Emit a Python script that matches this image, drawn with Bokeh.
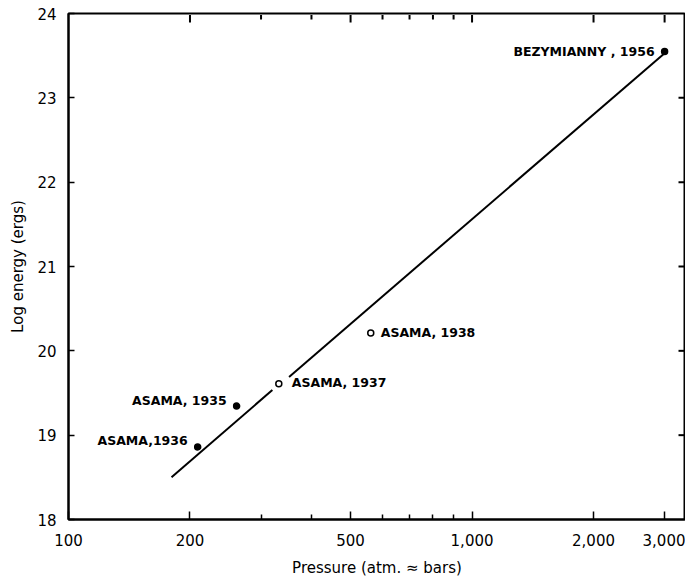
import math
from bokeh.plotting import figure
from bokeh.models import FixedTicker, Range1d, ColumnDataSource, LabelSet
from bokeh.core.properties import value
from bokeh.embed import file_html
from bokeh.resources import INLINE

# ---- data ----
names = ["BEZYMIANNY , 1956", "ASAMA, 1938", "ASAMA, 1937", "ASAMA, 1935", "ASAMA,1936"]
pressure = [3000, 561, 332, 261, 209]
log_energy = [23.55, 20.21, 19.61, 19.345, 18.86]
filled = [True, False, False, True, True]

# fitted line (two pieces, gap around ASAMA 1937)
line1_x = [180, 320]
line1_y = [18.50, 19.535]
line2_x = [352, 3000]
line2_y = [19.69, 23.53]

x_major = [100, 200, 500, 1000, 2000, 3000]
x_minor = [300, 400, 600, 700, 800, 900]
x_labels = {100: "100", 200: "200", 500: "500", 1000: "1,000", 2000: "2,000", 3000: "3,000"}
y_ticks = [18, 19, 20, 21, 22, 23, 24]

FONT = "DejaVu Sans"
X_START, X_END = 100, 3380
Y_START, Y_END = 18, 24

W, H = 685, 579
BL, BT, BR = 68, 13, 0

p = figure(width=W, height=H, x_axis_type="log",
           x_range=Range1d(X_START, X_END), y_range=Range1d(Y_START, Y_END),
           output_backend="svg", toolbar_location=None,
           min_border_left=BL, min_border_top=BT, min_border_right=BR, min_border_bottom=50)
p.grid.visible = False
p.outline_line_color = "black"
p.outline_line_width = 2
p.background_fill_color = "white"
p.border_fill_color = "white"

xa = p.xaxis[0]
xa.ticker = FixedTicker(ticks=x_major, minor_ticks=x_minor)
xa.major_label_overrides = x_labels
xa.axis_label = "Pressure (atm. \u2248 bars)"
xa.axis_label_text_font = FONT
xa.axis_label_text_font_style = "normal"
xa.axis_label_text_font_size = "15px"
xa.axis_label_text_color = "black"
xa.axis_label_standoff = 10
xa.major_label_text_font = FONT
xa.major_label_text_font_size = "15px"
xa.major_label_text_color = "black"
xa.major_label_standoff = 14
xa.axis_line_width = 2
xa.major_tick_in = 8
xa.major_tick_out = 0
xa.minor_tick_in = 5
xa.minor_tick_out = 0
xa.major_tick_line_width = 1.5
xa.minor_tick_line_width = 1.5

ya = p.yaxis[0]
ya.ticker = FixedTicker(ticks=y_ticks, minor_ticks=[])
ya.axis_label = "Log energy (ergs)"
ya.axis_label_text_font = FONT
ya.axis_label_text_font_style = "normal"
ya.axis_label_text_font_size = "15px"
ya.axis_label_text_color = "black"
ya.axis_label_standoff = 7
ya.major_label_text_font = FONT
ya.major_label_text_font_size = "15px"
ya.major_label_text_color = "black"
ya.major_label_standoff = 12
ya.axis_line_width = 2
ya.major_tick_in = 6
ya.major_tick_out = 0
ya.major_tick_line_width = 1.5

p.line(line1_x, line1_y, line_color="black", line_width=2)
p.line(line2_x, line2_y, line_color="black", line_width=2)

src = ColumnDataSource(dict(x=pressure, y=log_energy, name=names,
                            fill=["black" if f else "white" for f in filled]))
p.scatter("x", "y", source=src, size=6, fill_color="fill", line_color="black", line_width=1.5)

# inward ticks on the top and right frame edges (multi-line, fully inside the frame)
frame_w = W - BL - BR
frame_h = 505
y_per_px = (Y_END - Y_START) / frame_h
logx_per_px = math.log10(X_END / X_START) / frame_w

tick_xs, tick_ys = [], []
for t in x_major[1:]:
    tick_xs.append([t, t]); tick_ys.append([Y_END - 1.5 * y_per_px, Y_END - 9 * y_per_px])
for t in x_minor:
    tick_xs.append([t, t]); tick_ys.append([Y_END - 1.5 * y_per_px, Y_END - 6 * y_per_px])
for t in y_ticks[1:-1]:
    tick_xs.append([X_END / 10 ** (1.5 * logx_per_px), X_END / 10 ** (7 * logx_per_px)])
    tick_ys.append([t, t])
p.multi_line(xs=tick_xs, ys=tick_ys, line_color="black", line_width=2)

label_font_size = "12.5px"
left_idx = [0, 3, 4]
right_idx = [1, 2]
offsets_y = {0: 0, 3: 6, 4: 6}
for i in left_idx:
    src_i = ColumnDataSource(dict(x=[pressure[i]], y=[log_energy[i]], t=[names[i]]))
    p.add_layout(LabelSet(x="x", y="y", text="t", source=src_i, x_offset=-10, y_offset=offsets_y[i],
                          text_align="right", text_baseline="middle", text_font=value(FONT),
                          text_font_style="bold", text_font_size=label_font_size, text_color="black"))
offs_x = {1: 10, 2: 13}
for i in right_idx:
    src_i = ColumnDataSource(dict(x=[pressure[i]], y=[log_energy[i]], t=[names[i]]))
    p.add_layout(LabelSet(x="x", y="y", text="t", source=src_i, x_offset=offs_x[i], y_offset=1,
                          text_align="left", text_baseline="middle", text_font=value(FONT),
                          text_font_style="bold", text_font_size=label_font_size, text_color="black"))

open("out.html", "w").write(file_html(p, INLINE))
